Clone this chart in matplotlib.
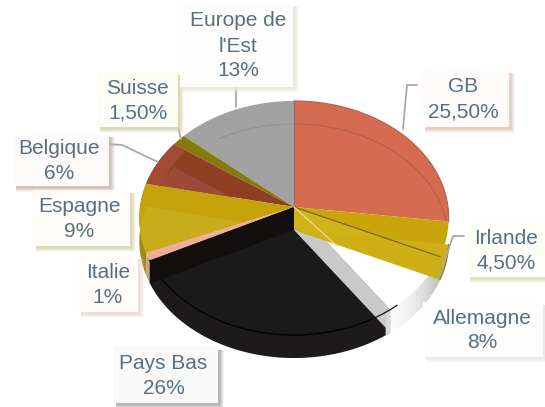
import numpy as np
import matplotlib
matplotlib.use("Agg")
import matplotlib.pyplot as plt
from matplotlib.patches import Rectangle, Polygon

plt.rcParams['font.family'] = ['Liberation Sans', 'DejaVu Sans']

categories = ["GB", "Irlande", "Allemagne", "Pays Bas", "Italie", "Espagne", "Belgique", "Suisse", "Europe de\nl'Est"]
values = [25.5, 4.5, 8, 26, 1, 9, 6, 1.5, 13]
value_labels = ["25,50%", "4,50%", "8%", "26%", "1%", "9%", "6%", "1,50%", "13%"]

W, H = 545, 407
fig = plt.figure(figsize=(W / 100, H / 100), dpi=100, facecolor='white')
ax = fig.add_axes([0, 0, 1, 1])
ax.set_xlim(0, W)
ax.set_ylim(H, 0)
ax.axis('off')

# perspective pie geometry
CX, CY, BX, AY, P, DROP = 294.0, 207.0, 154.0, 116.0, 0.094, 23.0
fr = np.array(values, float) / sum(values) * 360
ends = np.cumsum(fr)
starts = ends - fr
ang = {n: (a, b) for n, a, b in zip(["GB", "IR", "AL", "PB", "IT", "ES", "BE", "SU", "EE"], starts, ends)}


def pts(a, b, drop=0.0, n=60, r=1.0):
    t = np.radians(np.linspace(a, b, n))
    X, Y = np.sin(t), np.cos(t)
    d = 1 + P * Y
    return np.column_stack([CX + r * BX * X / d, CY - r * AY * Y / d + drop])


def apex(drop=0.0):
    return np.array([[CX, CY + drop]])


def top(a, b):
    return np.vstack([apex(), pts(a, b)])


def bottom(a, b):
    return np.vstack([apex(DROP), pts(a, b, DROP)])


def radial(t):
    e = pts(t, t, n=1)
    return np.vstack([apex(), e, e + [0, DROP], apex(DROP)])


def rim(a, b):
    return np.vstack([pts(a, b), pts(a, b, DROP)[::-1]])


def fill(p, c, z, alpha=1.0, ec='none', lw=0, clip=None):
    patch = Polygon(p, closed=True, fc=c, ec=ec, lw=lw, alpha=alpha, zorder=z)
    ax.add_patch(patch)
    if clip is not None:
        cp = Polygon(clip, closed=True, transform=ax.transData)
        patch.set_clip_path(cp)
    return patch


# back slices
a, b = ang["EE"]
fill(top(a, b), '#a2a2a2', 2)
a, b = ang["SU"]
fill(top(a, b), '#857a0c', 2)
a, b = ang["BE"]
fill(top(a, b), '#8f3f24', 2)
fill(bottom(a, b), '#9c4a38', 2.1, clip=top(a, b))
fill(np.vstack([pts(a, b), pts(a, b, r=0.9)[::-1]]), '#a24a34', 2.15)
a, b = ang["ES"]
fill(rim(a, b), '#a08a10', 1.9)
fill(top(a, b), '#c4a20a', 2)
fill(bottom(a, b), '#c9ac1c', 2.1, clip=np.vstack([top(a, b), pts(b, b, n=1)]))
a, b = ang["GB"]
fill(top(a, b), '#d56c52', 2)

# faint far rim seen through the glass
a, b = ang["EE"]
ax.plot(*pts(a + 18, b, DROP).T, color='#8c8c8c', lw=0.8, alpha=0.7, zorder=2.2)
a, b = ang["GB"]
ax.plot(*pts(a, 88, DROP).T, color='#a85a48', lw=0.8, alpha=0.7, zorder=2.2)
ax.plot(*np.vstack([[CX, CY], pts(a, a, n=1)]).T, color='#9a6a5c', lw=0.8, zorder=2.2)
ax.plot(*pts(a, b).T, color='#b06250', lw=0.8, zorder=2.2)

# Italie
a, b = ang["IT"]
fill(top(a, b), '#eeae9c', 2.5)
fill(rim(a, b), '#d09a80', 2.4)

# Pays Bas: rim, face, wall
a, b = ang["PB"]
fill(rim(a, b), '#1c1a1a', 3)
fill(top(a, b), '#1a1a1a', 3.1)
ax.plot(*pts(a, b).T, color='#000000', lw=0.9, zorder=3.2)
fill(radial(b), '#130f0f', 3.3)

# Allemagne: white face, shaded rim, grey wall
a, b = ang["AL"]
fill(top(a, b), '#ffffff', 3.4)
edges = np.linspace(a, b, 25)
shade = plt.get_cmap('Greys')
for i in range(24):
    f = i / 23
    fill(rim(edges[i], edges[i + 1]), shade(0.40 - 0.38 * f), 3.5, lw=0.3, ec=shade(0.40 - 0.38 * f))
fill(radial(b), '#c9c9c9', 3.6)
ax.plot(*pts(b - 3, b + 8).T, color='#101010', lw=0.9, zorder=3.7)
fill(rim(b, b + 2.0), '#d8d8d8', 3.65)

# Irlande
a, b = ang["IR"]
fill(top(a, b), '#c9a40a', 4)
fill(radial(b), '#cfb318', 4.1)
fill(bottom(a, b), '#ceb016', 4.2)
ax.plot(*np.vstack([[CX, CY], pts(b, b, n=1)]).T, color='#7a6a10', lw=0.9, zorder=4.4)
ax.plot(*pts(a, b, DROP).T, color='#8a7a10', lw=0.8, zorder=4.3)
ax.plot(*np.vstack([[CX, CY], [337, 246]]).T, color='#e8dfa0', lw=0.9, zorder=4.4)

# boxes: x0, x1, y0, y1, background, shadow, text dx
boxes = {
    "GB": (422, 509, 70, 127, '#fefbfa', '#e2c2bb', -2),
    "Irlande": (467, 545, 222, 277, '#fefef9', '#dedcb6', 0),
    "Allemagne": (423, 543, 302, 357, '#fdfdfd', '#e6e6e6', -1),
    "Pays Bas": (113, 218, 347, 403, '#f9f9f9', '#a8a8a8', -2),
    "Italie": (78, 138, 256, 312, '#fffcfa', '#ecd6d0', 0),
    "Espagne": (33, 130, 190, 246, '#fffcf9', '#d6d4a4', -2),
    "Belgique": (13, 109, 134, 186, '#fefafa', '#cfb4ae', -2),
    "Suisse": (97, 178, 72, 127, '#fdfdf8', '#d4d2a8', 0),
    "Europe de\nl'Est": (180, 293, 3, 87, '#fdfdfd', '#e8e6d8', 2),
}
for name, lab in zip(categories, value_labels):
    x0, x1, y0, y1, bg, sh, dx = boxes[name]
    for off, al in ((6, 0.12), (5, 0.2), (4, 0.3), (3, 0.4), (2, 0.4)):
        ax.add_patch(Rectangle((x0 + 3, y0 + 3), x1 - x0 + off - 3, y1 - y0 + off - 3, fc=sh, ec='none', alpha=al, zorder=5))
    ax.add_patch(Rectangle((x0, y0), x1 - x0, y1 - y0, fc=bg, ec='none', zorder=5.5))
    lines = name.split("\n") + [lab]
    total = len(lines)
    yc = (y0 + y1) / 2 + 1
    for i, line in enumerate(lines):
        ax.text((x0 + x1) / 2 + dx, yc + (i - (total - 1) / 2) * 25, line, ha='center', va='center',
                color='#567082', fontsize=15.0, zorder=7)

# leader lines
leaders = [
    [(417, 85), (407, 85), (403, 129)],
    [(464, 236), (453, 236), (439, 278)],
    [(236, 87), (236, 107)],
    [(178, 127), (181, 139)],
    [(109, 144), (122, 145), (158, 162)],
]
for L in leaders:
    ax.plot(*np.array(L).T, color='#a9a9a9', lw=1.3, zorder=4.8, solid_capstyle='round')

fig.savefig('out.png', dpi=100, facecolor='white')
